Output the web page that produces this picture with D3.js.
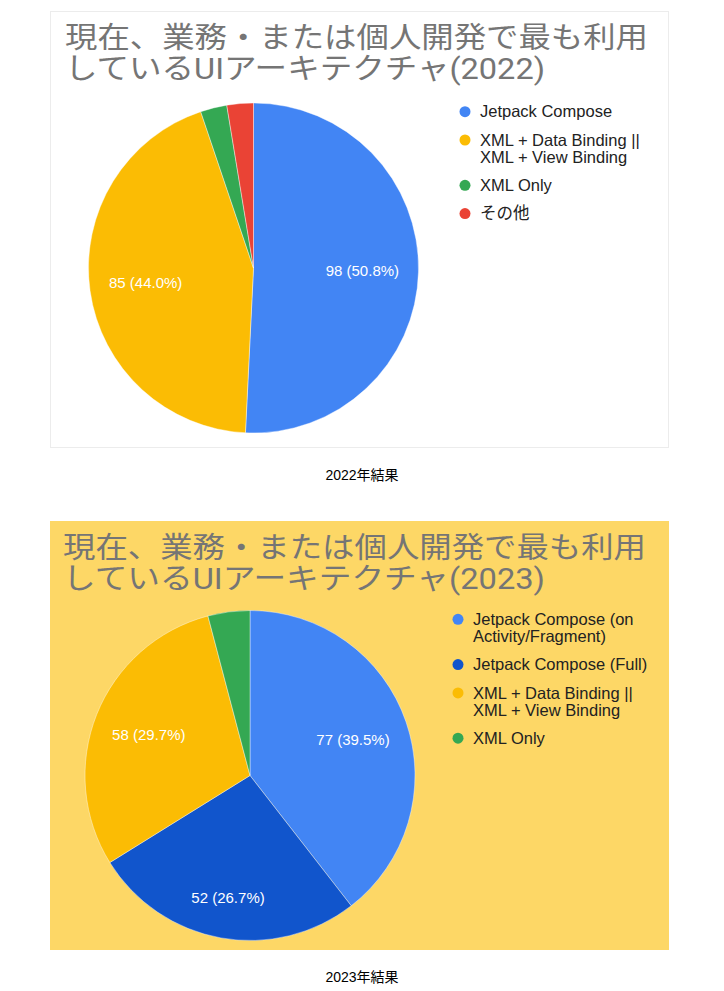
<!DOCTYPE html>
<html>
<head>
<meta charset="utf-8">
<script src="https://cdn.jsdelivr.net/npm/d3@7/dist/d3.min.js"></script>
<style>
  html, body { margin: 0; padding: 0; background: #ffffff; }
  svg { display: block; }
</style>
</head>
<body>
<svg id="chart" width="724" height="991"></svg>
<script>
// ---------------- Data ----------------
const titles2022 = ["現在、業務・または個人開発で最も利用", "しているUIアーキテクチャ(2022)"];
const categories2022 = ["Jetpack Compose", "XML + Data Binding || XML + View Binding", "XML Only", "その他"];
const legendLines2022 = [["Jetpack Compose"], ["XML + Data Binding ||", "XML + View Binding"], ["XML Only"], ["その他"]];
const values2022 = [98, 85, 5, 5];
const colors2022 = ["#4285f4", "#fbbc04", "#34a853", "#ea4335"];
const caption2022 = "2022年結果";

const titles2023 = ["現在、業務・または個人開発で最も利用", "しているUIアーキテクチャ(2023)"];
const categories2023 = ["Jetpack Compose (on Activity/Fragment)", "Jetpack Compose (Full)", "XML + Data Binding || XML + View Binding", "XML Only"];
const legendLines2023 = [["Jetpack Compose (on", "Activity/Fragment)"], ["Jetpack Compose (Full)"], ["XML + Data Binding ||", "XML + View Binding"], ["XML Only"]];
const values2023 = [77, 52, 58, 8];
const colors2023 = ["#4285f4", "#1155cc", "#fbbc04", "#34a853"];
const caption2023 = "2023年結果";

// ---------------- Drawing ----------------
const svg = d3.select("#chart");
const latin = "'Liberation Sans', Arial, Helvetica, sans-serif";
const titleFont = "Roboto, 'Noto Sans CJK JP', sans-serif";

function drawPanel(opt) {
  const g = svg.append("g").attr("transform", `translate(${opt.x},${opt.y})`);
  g.append("rect")
    .attr("x", 0.5).attr("y", 0.5)
    .attr("width", opt.w - 1).attr("height", opt.h - 1)
    .attr("fill", opt.bg)
    .attr("stroke", opt.border)
    .attr("stroke-width", 1);

  // title
  g.selectAll("text.title")
    .data(opt.titles)
    .join("text")
    .attr("class", "title")
    .attr("x", opt.titleX)
    .attr("y", (d, i) => opt.titleY + i * 31)
    .attr("textLength", (d, i) => opt.titleLengths[i])
    .attr("lengthAdjust", "spacingAndGlyphs")
    .attr("font-family", titleFont)
    .attr("font-size", 29)
    .attr("fill", "#757575")
    .text(d => d);

  // pie
  const data = opt.categories.map((c, i) => ({ cat: c, value: opt.values[i], color: opt.colors[i] }));
  const total = d3.sum(opt.values);
  const pie = d3.pie().value(d => d.value).sort(null);
  const arcs = pie(data);
  const arc = d3.arc().innerRadius(0).outerRadius(opt.r);
  const labelArc = d3.arc().innerRadius(opt.r * 0.66).outerRadius(opt.r * 0.66);

  const pg = g.append("g").attr("transform", `translate(${opt.cx},${opt.cy})`);
  pg.selectAll("path")
    .data(arcs)
    .join("path")
    .attr("d", arc)
    .attr("fill", d => d.data.color)
    .attr("stroke", "#ffffff")
    .attr("stroke-opacity", 0.5)
    .attr("stroke-width", 0.8);

  pg.selectAll("text")
    .data(arcs.filter(d => d.data.value / total > 0.1))
    .join("text")
    .attr("transform", d => {
      const [x, y] = labelArc.centroid(d);
      const mid = (d.startAngle + d.endAngle) / 2;
      // push labels of near-vertical slices slightly outward (text is wide, not tall)
      const extra = Math.abs(Math.cos(mid)) > 0.9 ? 16 * Math.abs(Math.cos(mid)) : 0;
      return `translate(${x + Math.sin(mid) * extra},${y - Math.cos(mid) * extra})`;
    })
    .attr("text-anchor", "middle")
    .attr("dy", "0.35em")
    .attr("font-family", latin)
    .attr("font-size", 15)
    .attr("fill", "#ffffff")
    .text(d => `${d.data.value} (${(d.data.value / total * 100).toFixed(1)}%)`);

  // legend
  const lg = g.append("g").attr("transform", `translate(${opt.legendX},${opt.legendY})`);
  let yy = 0;
  opt.legendLines.forEach((lines, i) => {
    const item = lg.append("g").attr("transform", `translate(0,${yy})`);
    item.append("circle")
      .attr("cx", 0).attr("cy", 0).attr("r", 5.5)
      .attr("fill", opt.colors[i]);
    item.selectAll("text")
      .data(lines)
      .join("text")
      .attr("x", 15)
      .attr("y", (d, j) => j * 17)
      .attr("dy", "0.35em")
      .attr("font-family", latin + ", 'Noto Sans CJK JP'")
      .attr("font-size", 16.5)
      .attr("fill", "#222222")
      .text(d => d);
    yy += 28.3 + (lines.length - 1) * 17;
  });

  // caption
  svg.append("text")
    .attr("x", 362)
    .attr("y", opt.captionY)
    .attr("text-anchor", "middle")
    .attr("font-family", latin + ", 'Noto Sans CJK JP'")
    .attr("font-size", 14)
    .attr("fill", "#000000")
    .text(opt.caption);
}

drawPanel({
  x: 50, y: 11, w: 619, h: 437, bg: "#ffffff", border: "#ececec",
  titles: titles2022, titleX: 15, titleY: 37, titleLengths: [583, 480],
  categories: categories2022, values: values2022, colors: colors2022,
  cx: 203.5, cy: 257, r: 165,
  legendLines: legendLines2022, legendX: 415, legendY: 100.7,
  caption: caption2022, captionY: 480
});

drawPanel({
  x: 50, y: 521, w: 619, h: 429, bg: "#fdd766", border: "#fdd766",
  titles: titles2023, titleX: 13, titleY: 37, titleLengths: [583, 482],
  categories: categories2023, values: values2023, colors: colors2023,
  cx: 200, cy: 254.5, r: 165,
  legendLines: legendLines2023, legendX: 408, legendY: 98.3,
  caption: caption2023, captionY: 982
});
</script>
</body>
</html>
